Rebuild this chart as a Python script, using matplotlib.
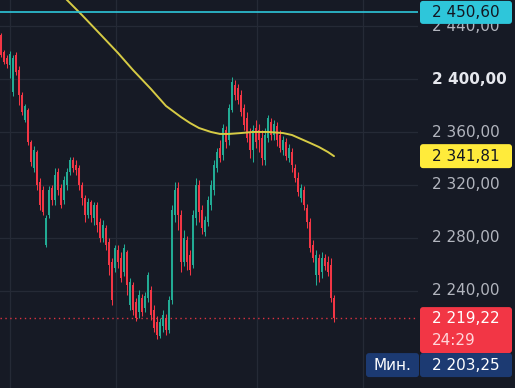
import matplotlib
matplotlib.use('Agg')
import matplotlib.pyplot as plt
from matplotlib import transforms
from matplotlib.patches import FancyBboxPatch
import numpy as np

# candles, oldest first
opens = [2433.5, 2420.6, 2416.1, 2410.8, 2390.4, 2418.4, 2407.0, 2388.1, 2369.2, 2376.7,
         2352.5, 2332.8, 2344.9, 2322.2, 2316.2, 2274.5, 2297.2, 2317.7, 2308.6, 2329.8,
         2317.7, 2308.6, 2320.0, 2329.8, 2338.9, 2335.1, 2332.8, 2320.0, 2310.1, 2297.2,
         2307.1, 2295.0, 2304.8, 2291.9, 2279.8, 2287.4, 2276.8, 2261.7, 2257.1, 2270.7,
         2264.7, 2254.1, 2269.2, 2229.1, 2244.3, 2231.4, 2223.8, 2234.4, 2226.8, 2234.4,
         2240.5, 2225.3, 2216.2, 2205.6, 2213.2, 2219.3, 2210.2, 2232.9, 2297.2, 2317.7,
         2297.2, 2261.7, 2278.3, 2267.0, 2259.4, 2295.0, 2320.0, 2301.0, 2284.4, 2291.9,
         2304.8, 2316.2, 2332.8, 2348.0, 2342.7, 2361.6, 2354.0, 2376.7, 2395.7, 2393.4,
         2388.1, 2378.2, 2370.7, 2360.1, 2346.4, 2363.1, 2361.6, 2355.5, 2338.9, 2355.5,
         2367.6, 2357.8, 2364.6, 2357.8, 2346.4, 2352.5, 2340.4, 2344.9, 2332.8, 2325.3,
         2310.1, 2316.2, 2302.5, 2291.9, 2274.5, 2251.8, 2264.7, 2254.1, 2264.7, 2261.7,
         2259.4, 2234.4]
highs = [2435.0, 2422.1, 2418.4, 2421.4, 2418.4, 2420.6, 2410.0, 2390.4, 2381.3, 2378.2,
         2354.0, 2349.5, 2346.4, 2325.3, 2319.2, 2297.2, 2319.2, 2320.0, 2332.8, 2332.8,
         2320.7, 2326.8, 2332.8, 2341.2, 2341.2, 2338.9, 2335.1, 2322.2, 2312.4, 2310.1,
         2308.6, 2307.1, 2307.1, 2295.0, 2293.5, 2289.7, 2279.8, 2264.7, 2274.5, 2274.5,
         2269.2, 2275.3, 2270.7, 2249.6, 2246.5, 2234.4, 2240.5, 2237.4, 2239.0, 2254.1,
         2243.5, 2229.1, 2220.8, 2219.3, 2225.3, 2222.3, 2235.9, 2304.8, 2322.2, 2322.2,
         2301.0, 2285.9, 2281.3, 2270.7, 2301.0, 2325.3, 2323.7, 2304.8, 2296.5, 2311.6,
         2323.7, 2338.9, 2348.0, 2354.0, 2366.1, 2364.6, 2381.3, 2401.7, 2399.4, 2396.4,
         2391.9, 2381.3, 2375.2, 2363.1, 2365.4, 2369.2, 2366.1, 2361.6, 2363.1, 2372.9,
         2370.7, 2369.2, 2367.6, 2361.6, 2357.0, 2355.5, 2351.0, 2348.0, 2335.9, 2329.8,
         2320.7, 2319.2, 2305.6, 2295.0, 2278.3, 2270.7, 2267.7, 2269.2, 2267.7, 2266.2,
         2264.7, 2236.7]
lows = [2416.9, 2411.6, 2408.5, 2401.0, 2387.3, 2403.2, 2380.5, 2372.9, 2367.6, 2350.2,
        2334.3, 2329.8, 2316.2, 2301.0, 2297.2, 2273.0, 2295.0, 2304.8, 2304.8, 2312.4,
        2302.5, 2305.6, 2316.2, 2327.5, 2329.8, 2327.5, 2316.2, 2304.8, 2291.9, 2295.0,
        2291.9, 2289.7, 2284.4, 2276.8, 2276.8, 2270.7, 2251.8, 2229.1, 2254.1, 2257.1,
        2246.5, 2251.1, 2236.7, 2225.3, 2221.5, 2217.0, 2219.3, 2220.8, 2223.8, 2231.4,
        2217.8, 2208.7, 2203.25, 2204.1, 2208.7, 2206.4, 2207.9, 2229.9, 2291.9, 2285.9,
        2254.1, 2258.6, 2255.6, 2251.8, 2257.1, 2289.7, 2291.9, 2282.9, 2281.3, 2288.9,
        2301.0, 2312.4, 2329.8, 2337.4, 2338.9, 2348.0, 2350.2, 2375.2, 2384.3, 2381.3,
        2372.2, 2361.6, 2352.5, 2340.4, 2337.4, 2348.0, 2344.9, 2335.1, 2335.1, 2352.5,
        2354.0, 2354.0, 2349.5, 2344.9, 2342.7, 2338.9, 2337.4, 2329.8, 2322.2, 2311.6,
        2307.1, 2301.0, 2287.4, 2269.2, 2261.7, 2244.3, 2246.5, 2249.6, 2255.6, 2251.1,
        2231.4, 2216.2]
closes = [2418.4, 2413.1, 2411.6, 2419.1, 2416.1, 2405.5, 2388.1, 2375.2, 2379.8, 2352.5,
          2337.4, 2346.4, 2320.0, 2304.8, 2299.5, 2295.0, 2316.2, 2308.6, 2327.5, 2316.2,
          2304.8, 2323.7, 2329.8, 2338.9, 2332.8, 2331.3, 2320.0, 2310.1, 2297.2, 2307.1,
          2297.2, 2304.8, 2289.7, 2279.8, 2289.7, 2274.5, 2259.4, 2232.9, 2272.3, 2261.7,
          2249.6, 2272.3, 2244.3, 2246.5, 2225.3, 2219.3, 2236.7, 2223.8, 2235.9, 2251.8,
          2221.5, 2211.7, 2206.4, 2216.2, 2221.5, 2210.2, 2232.9, 2301.0, 2316.2, 2297.2,
          2261.7, 2279.8, 2261.7, 2255.6, 2297.2, 2320.0, 2299.5, 2287.4, 2293.5, 2308.6,
          2320.0, 2335.1, 2344.9, 2340.4, 2363.1, 2352.5, 2378.2, 2397.9, 2388.1, 2384.3,
          2375.2, 2365.4, 2355.5, 2346.4, 2361.6, 2352.5, 2354.0, 2340.4, 2357.8, 2370.7,
          2357.8, 2366.1, 2354.0, 2348.0, 2354.0, 2341.9, 2348.0, 2335.1, 2325.3, 2314.7,
          2317.7, 2304.8, 2291.9, 2272.3, 2264.7, 2267.0, 2251.8, 2264.7, 2258.6, 2254.1,
          2234.4, 2219.22]

# moving average, read at some candle positions
ma_idx = [18, 22, 27, 33, 39, 44, 50, 55, 60, 63, 66, 70, 73, 76, 80, 84, 89, 94, 97,
          100, 103, 106, 109, 111]
ma_vals = [2469.8, 2460.0, 2448.6, 2434.3, 2419.9, 2407.0, 2392.6, 2379.8, 2371.4, 2366.9,
           2363.1, 2360.1, 2358.6, 2358.6, 2359.3, 2360.1, 2360.1, 2359.3, 2357.8, 2354.8,
           2351.8, 2348.7, 2344.9, 2341.81]

price_ticks = [2240, 2280, 2320, 2360, 2400, 2440]
time_grid = [3.0, 38.3, 85.3, 120.7]

alert_price = 2450.60
ma_last = 2341.81
last_price = 2219.22
countdown = '24:29'
min_label = 'Мин.'
min_price = 2203.25

BG = '#161a25'
GRID = '#252a36'
UP = '#22ab94'
DOWN = '#f23645'
CYAN = '#2ec6da'
YELLOW = '#ffeb3b'
NAVY = '#1c3a72'


def fmt(v):
    return f'{v:,.2f}'.replace(',', ' ').replace('.', ',')


W, H = 515, 388
fig = plt.figure(figsize=(W / 100, H / 100), dpi=100, facecolor=BG)
ax = fig.add_axes([0, 0, 418 / W, 1])
ax.set_facecolor(BG)
ax.set_xlim(-0.33, 139.0)
ax.set_ylim(2166.3, 2460.0)
for s in ax.spines.values():
    s.set_visible(False)
ax.set_xticks([])
ax.set_yticks([])

for t in price_ticks:
    ax.axhline(t, color=GRID, lw=0.9, zorder=0)
for g in time_grid:
    ax.axvline(g, color=GRID, lw=0.9, zorder=0)

# candles
o = np.array(opens)
c = np.array(closes)
idx = np.arange(len(c))
cols = np.where(c >= o, UP, DOWN)
ax.vlines(idx, lows, highs, colors=cols, lw=0.75, zorder=2)
ax.bar(idx, np.maximum(np.abs(c - o), 0.6), bottom=np.minimum(o, c),
       width=0.72, color=cols, linewidth=0, zorder=3)

ax.plot(ma_idx, ma_vals, color='#d6cb45', lw=1.4, zorder=4,
        solid_capstyle='round', solid_joinstyle='round')
ax.axhline(alert_price, color=CYAN, lw=1.2, zorder=5)
ax.axhline(last_price, color=DOWN, lw=1.0, ls=(0, (1, 2.5)), alpha=0.9, zorder=1)

# price scale
lab = transforms.blended_transform_factory(fig.transFigure, ax.transData)
for t in price_ticks:
    bold = t == 2400
    ax.text(432 / W, t, fmt(t), transform=lab, ha='left', va='center', fontsize=11,
            color='#e6e8ee' if bold else '#b2b5be',
            fontweight='bold' if bold else 'normal', clip_on=False)

px = transforms.IdentityTransform()


def ypix(p):
    return ax.transData.transform((0, p))[1]


def box(x0, x1, y0, y1, color):
    fig.add_artist(FancyBboxPatch((x0, y0), x1 - x0, y1 - y0, transform=px,
                                  boxstyle='round,pad=0,rounding_size=3',
                                  fc=color, ec='none', zorder=6))


def label(x, y, s, color, ha='left'):
    fig.text(x, y, s, transform=px, ha=ha, va='center', fontsize=11,
             color=color, zorder=7)


ya = ypix(alert_price)
box(420, 512, ya - 11.5, ya + 11.5, CYAN)
label(432, ya, fmt(alert_price), '#131722')

ym = ypix(ma_last)
box(420, 512, ym - 12, ym + 12, YELLOW)
label(432, ym, fmt(ma_last), '#131722')

yl = ypix(last_price)
box(420, 512, yl - 35, yl + 11, DOWN)
label(432, yl, fmt(last_price), 'white')
label(432, yl - 22, countdown, '#ffd6da')

box(366, 419, yl - 59, yl - 35, NAVY)
box(420, 512, yl - 59, yl - 35, NAVY)
label(392, yl - 47, min_label, 'white', ha='center')
label(432, yl - 47, fmt(min_price), 'white')

fig.savefig('out.png', dpi=100, facecolor=BG)
